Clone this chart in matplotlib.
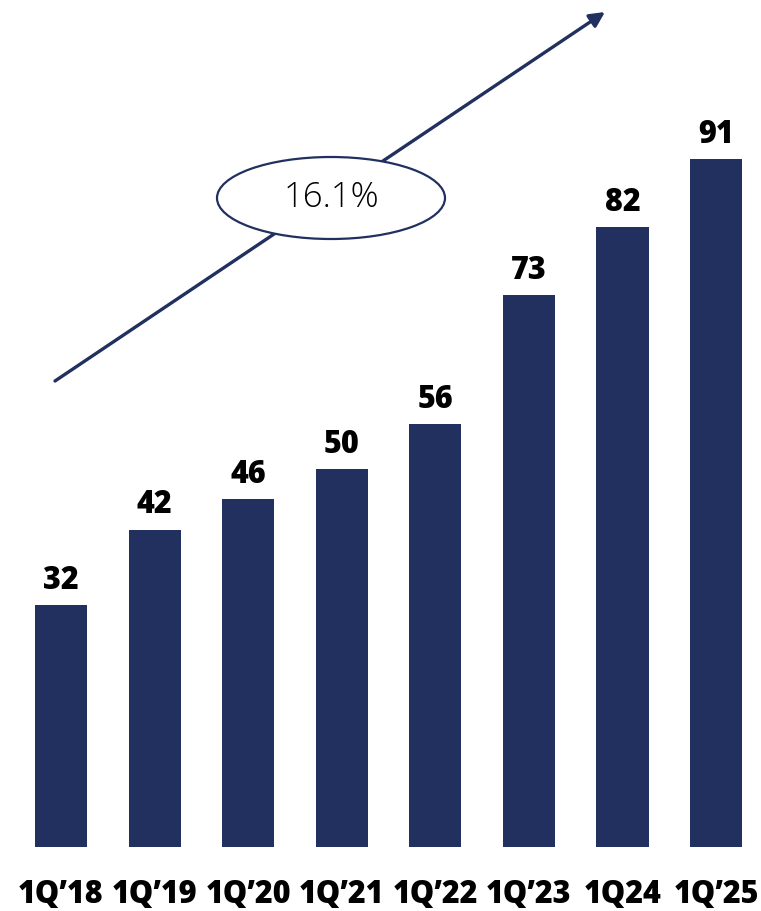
import matplotlib

matplotlib.use("Agg")
import matplotlib.pyplot as plt
from matplotlib.patches import Ellipse

quarters = ["1Q\u201918", "1Q\u201919", "1Q\u201920", "1Q\u201921",
            "1Q\u201922", "1Q\u201923", "1Q24", "1Q\u201925"]
values = [32, 42, 46, 50, 56, 73, 82, 91]
cagr_label = "16.1%"

navy = "#21305F"
W, H = 761, 911

fig = plt.figure(figsize=(W / 100, H / 100), dpi=100)
base = 847  # pixel row of the bar bottoms
ax = fig.add_axes([0, (H - base) / H, 1, base / H])
ax.set_axis_off()

x = list(range(len(values)))
ax.bar(x, values, width=0.556, color=navy)
ax.set_xlim(-0.652, 7.48)
ax.set_ylim(0, 112.1)

for xi, v in zip(x, values):
    ax.annotate(str(v), (xi, v), xytext=(0, 6), textcoords="offset points",
                ha="center", va="bottom", fontsize=22, fontweight=800,
                family=["Open Sans", "DejaVu Sans"], color="black")

# category labels under the bars
for xi, q in zip(x, quarters):
    ax.annotate(q, (xi, 0), xytext=(0, -40.5), textcoords="offset points",
                ha="center", va="baseline", fontsize=22, fontweight=800,
                family=["Open Sans", "DejaVu Sans"], color="black",
                annotation_clip=False)

# growth arrow (figure fractions)
fig_tr = fig.transFigure
ax.annotate("", xy=(605 / W, 1 - 12 / H), xytext=(55 / W, 1 - 381 / H),
            xycoords=fig_tr, textcoords=fig_tr,
            arrowprops=dict(arrowstyle="-|>,head_length=0.9,head_width=0.45",
                            color=navy, lw=2.4, shrinkA=0, shrinkB=0))

ell = Ellipse((331 / W, 1 - 198 / H), 228 / W, 82 / H, transform=fig_tr,
              facecolor="white", edgecolor=navy, lw=1.6, zorder=5)
fig.add_artist(ell)
fig.text(331 / W, 1 - 198 / H, cagr_label, ha="center", va="center",
         fontsize=25, fontweight="light", family=["Open Sans", "DejaVu Sans"],
         color="black", zorder=6)

fig.savefig("out.png", dpi=100, facecolor="white")
